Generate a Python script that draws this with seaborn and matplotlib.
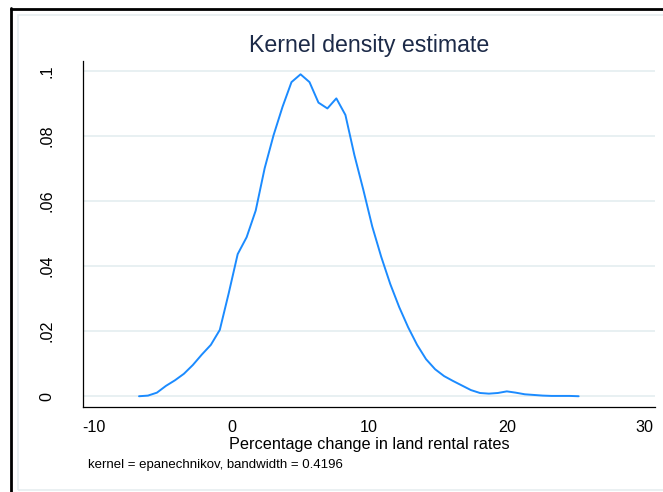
import matplotlib
matplotlib.use("Agg")
import matplotlib.pyplot as plt
from matplotlib.lines import Line2D
from matplotlib.patches import Rectangle
import seaborn as sns
import pandas as pd

# ---- data ----
x_vals = [-6.73, -6.08, -5.43, -4.77, -4.12, -3.47, -2.82, -2.17, -1.51, -0.86,
          -0.21, 0.44, 1.09, 1.75, 2.40, 3.05, 3.70, 4.35, 5.01, 5.66,
          6.31, 6.96, 7.61, 8.27, 8.92, 9.57, 10.22, 10.87, 11.53, 12.18,
          12.83, 13.48, 14.13, 14.79, 15.44, 16.09, 16.74, 17.39, 18.05, 18.70,
          19.35, 20.00, 20.65, 21.31, 21.96, 22.61, 23.26, 23.91, 24.57, 25.22]
density = [0.0000, 0.0002, 0.0011, 0.0032, 0.0049, 0.0069, 0.0096, 0.0128, 0.0158, 0.0204,
           0.0317, 0.0437, 0.0489, 0.0571, 0.0701, 0.0803, 0.0890, 0.0966, 0.0990, 0.0966,
           0.0903, 0.0885, 0.0916, 0.0865, 0.0742, 0.0635, 0.0522, 0.0429, 0.0345, 0.0274,
           0.0212, 0.0158, 0.0114, 0.0083, 0.0062, 0.0047, 0.0033, 0.0019, 0.0010, 0.0008,
           0.0010, 0.0015, 0.0011, 0.0006, 0.0004, 0.0002, 0.0001, 0.0001, 0.0001, 0.0000]
x_ticks = [-10, 0, 10, 20, 30]
y_ticks = [0, 0.02, 0.04, 0.06, 0.08, 0.1]
y_tick_labels = ["0", ".02", ".04", ".06", ".08", ".1"]
title = "Kernel density estimate"
x_label = "Percentage change in land rental rates"
note = "kernel = epanechnikov, bandwidth = 0.4196"

df = pd.DataFrame({"x": x_vals, "density": density})

sns.set_style("white")
plt.rcParams["font.family"] = ["Liberation Sans", "DejaVu Sans"]

W, H = 663, 492
fig = plt.figure(figsize=(W / 100, H / 100), dpi=100)
fig.patch.set_facecolor("white")

left, right, top, bottom = 83.3, 655, 61.3, 407.3
ax = fig.add_axes([left / W, 1 - bottom / H, (right - left) / W, (bottom - top) / H])
ax.set_facecolor("white")

sns.lineplot(data=df, x="x", y="density", ax=ax, color="#1b8bff", linewidth=1.4)

ax.set_xlim(-10.78, 30.77)
ax.set_ylim(-0.0034, 0.103)

ax.set_xticks(x_ticks)
ax.set_xticklabels([str(t) for t in x_ticks])
ax.set_yticks(y_ticks)
ax.set_yticklabels(y_tick_labels, rotation=90, va="center")

for yt in y_ticks:
    ax.axhline(yt, color="#e8f0f2", linewidth=1.4, zorder=0)

for s in ["top", "right"]:
    ax.spines[s].set_visible(False)
for s in ["left", "bottom"]:
    ax.spines[s].set_color("black")
    ax.spines[s].set_linewidth(0.9)

ax.tick_params(axis="both", direction="out", length=5, width=0.8, color="black",
               labelsize=11.6, labelcolor="black")
ax.tick_params(axis="x", pad=4)
ax.tick_params(axis="y", pad=16)

ax.set_xlabel(x_label, fontsize=11.7, color="black", va="center")
ax.xaxis.set_label_coords(0.5, (bottom - 445) / (bottom - top))
ax.set_ylabel("")

ax.set_title(title, fontsize=16.7, color="#1c2a48", pad=0, va="center",
             y=1 + (top - 45) / (bottom - top))

fig.text(88 / W, 1 - 465 / H, note, fontsize=9.5, color="black",
         ha="left", va="center")

# frame decorations
fig.add_artist(Rectangle((18 / W, 1 - 490 / H), (W + 5 - 18) / W, (490 - 15) / H,
                         transform=fig.transFigure, fill=False,
                         edgecolor="#e6eef0", linewidth=1.2))
fig.add_artist(Line2D([11 / W, 11 / W], [0, 1 - 8 / H], transform=fig.transFigure,
                      color="black", linewidth=2.0))
fig.add_artist(Line2D([11 / W, 1], [1 - 8.5 / H, 1 - 8.5 / H], transform=fig.transFigure,
                      color="black", linewidth=2.0))

fig.savefig("out.png", dpi=100, facecolor="white")
